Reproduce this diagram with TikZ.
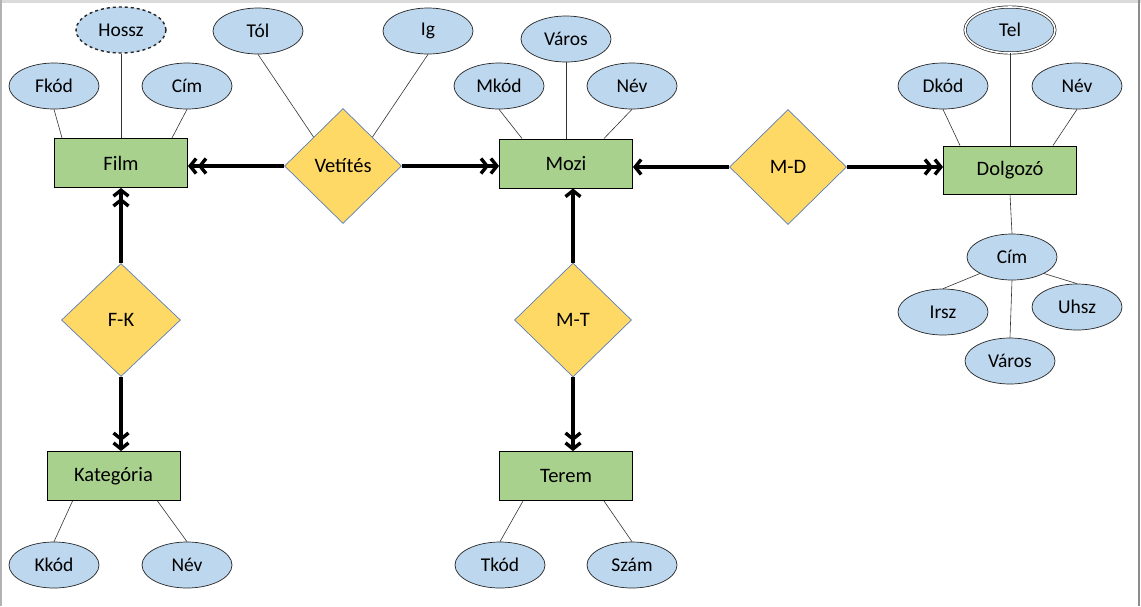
\documentclass[tikz,border=0pt]{standalone}
\usepackage{fontspec}
\setmainfont{Carlito}
\usepackage{xcolor}
\usepackage{tikz}
\usetikzlibrary{shapes,arrows.meta,positioning,calc}

\definecolor{entgreen}{HTML}{A9D18E}
\definecolor{attrblue}{HTML}{BDD7EE}
\definecolor{relyellow}{HTML}{FFD966}
\definecolor{relborder}{HTML}{5B7DB8}

\tikzset{
  entity/.style={draw=black, line width=0.9pt, fill=entgreen, minimum width=133pt, minimum height=49pt, inner sep=0pt, font=\fontsize{20.5}{24}\selectfont},
  attrib/.style={ellipse, draw=black!85, line width=0.7pt, fill=attrblue, minimum width=90pt, minimum height=46pt, inner sep=0pt, font=\fontsize{19.5}{23}\selectfont},
  relation/.style={diamond, draw=relborder, line width=0.7pt, fill=relyellow, minimum width=117pt, minimum height=115pt, inner sep=0pt, font=\fontsize{20.5}{24}\selectfont},
  link/.style={draw=black!80, line width=0.6pt},
  onearrow/.style={line width=3.4pt, -{Straight Barb[length=6pt,width=15pt]}},
  twoarrow/.style={line width=3.4pt, -{Straight Barb[length=6pt,width=15pt] Straight Barb[length=6pt,width=15pt]}}
}

\begin{document}
\begin{tikzpicture}[x=1pt, y=-1pt]
        \useasboundingbox (0,0) rectangle (1141,606);

        % Frame
        \fill[white] (0,0) rectangle (1141,606);
        \fill[black!14] (0,0) rectangle (1141,3);
        \fill[black!30] (0,0) rectangle (2,606);
        \fill[black!45] (1137.5,0) rectangle (1140,606);

        % Film
        \node[entity] (film) at (121,163) {Film};
        \node[attrib, dashed, line width=1.4pt] (hossz) at (121,30) {Hossz};
        \node[attrib] (fkod) at (54,86) {Fkód};
        \node[attrib] (cimf) at (187,86) {Cím};
        \draw[link] (hossz.south) -- (film.north);
        \draw[link] (fkod.south) -- ([xshift=8pt]film.north west);
        \draw[link] (cimf.south) -- ([xshift=-16pt]film.north east);

        % Vetites
        \node[relation] (vetites) at (343,166) {Vetítés};
        \node[attrib] (tol) at (258,31) {Tól};
        \node[attrib] (ig) at (428,31) {Ig};
        \draw[link] (tol.south) -- (vetites.north west);
        \draw[link] (ig.south) -- (vetites.north east);

        % Mozi
        \node[entity] (mozi) at (566,163.5) {Mozi};
        \node[attrib] (varosm) at (566,39) {Város};
        \node[attrib] (mkod) at (499,86) {Mkód};
        \node[attrib] (nevm) at (632,86) {Név};
        \draw[link] (varosm.south) -- (mozi.north);
        \draw[link] (mkod.south) -- ([xshift=23pt]mozi.north west);
        \draw[link] (nevm.south) -- ([xshift=-29pt]mozi.north east);

        % M-D and Dolgozo
        \node[relation] (md) at (788,167) {M-D};
        \node[entity, minimum height=48pt] (dolg) at (1010,170) {Dolgozó};
        \node[attrib, double, double distance=1.6pt, line width=0.7pt] (tel) at (1010,30) {Tel};
        \node[attrib] (dkod) at (943,86) {Dkód};
        \node[attrib] (nevd) at (1077,86) {Név};
        \draw[link] (tel.south) -- (dolg.north);
        \draw[link] (dkod.south) -- ([xshift=17pt]dolg.north west);
        \draw[link] (nevd.south) -- ([xshift=-24pt]dolg.north east);

        % Cim (composite)
        \node[attrib] (cimd) at (1012,257) {Cím};
        \node[attrib] (irsz) at (943,312) {Irsz};
        \node[attrib] (uhsz) at (1077,307) {Uhsz};
        \node[attrib] (varosd) at (1010,361) {Város};
        \draw[link] (dolg.south) -- (cimd.north);
        \draw[link] (cimd.south west) -- (irsz.north);
        \draw[link] (cimd.south east) -- (uhsz.north);
        \draw[link] (cimd.south) -- (varosd.north);

        % F-K and Kategoria
        \node[relation, minimum width=119pt, minimum height=113pt] (fk) at (121,320) {F-K};
        \node[entity] (kat) at (113.5,476) {Kategória};
        \node[attrib] (kkod) at (54,565) {Kkód};
        \node[attrib] (nevk) at (187,565) {Név};
        \draw[link] ([xshift=26pt]kat.south west) -- (kkod.north);
        \draw[link] ([xshift=-23pt]kat.south east) -- (nevk.north);

        % M-T and Terem
        \node[relation, minimum height=114pt] (mt) at (573,320) {M-T};
        \node[entity] (terem) at (566,476) {Terem};
        \node[attrib] (tkod) at (500,565) {Tkód};
        \node[attrib] (szam) at (632,565) {Szám};
        \draw[link] ([xshift=24pt]terem.south west) -- (tkod.north);
        \draw[link] ([xshift=-29pt]terem.south east) -- (szam.north);

        % Relationship arrows
        \draw[twoarrow] (vetites.west) -- (vetites.west -| film.east);
        \draw[twoarrow] (vetites.east) -- (vetites.east -| mozi.west);
        \draw[onearrow] (md.west) -- (md.west -| mozi.east);
        \draw[twoarrow] (md.east) -- (md.east -| dolg.west);
        \draw[twoarrow] (fk.north) -- (fk.north |- film.south);
        \draw[twoarrow] (fk.south) -- (fk.south |- kat.north);
        \draw[onearrow] (mt.north) -- (mt.north |- mozi.south);
        \draw[twoarrow] (mt.south) -- (mt.south |- terem.north);
      \end{tikzpicture}
\end{document}
